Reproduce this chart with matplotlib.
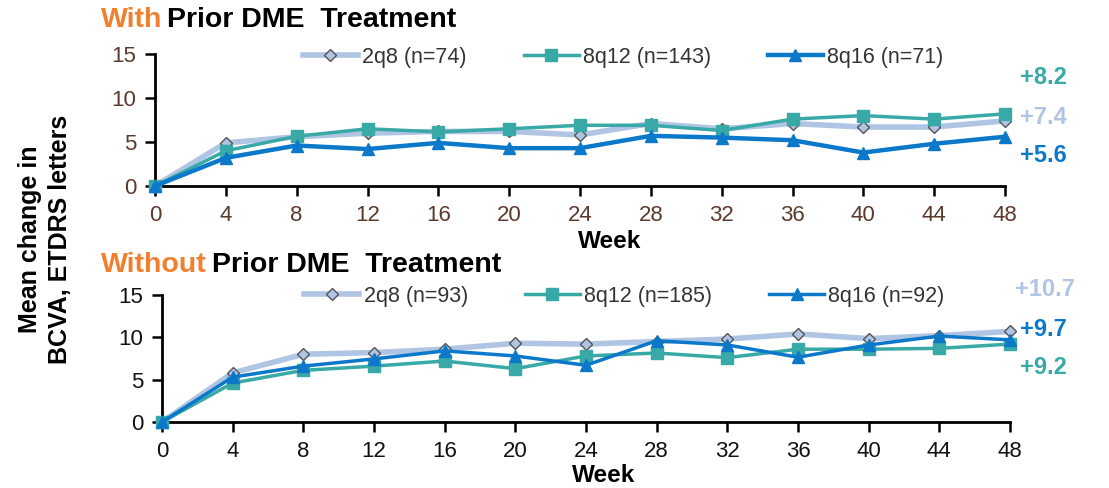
import matplotlib
matplotlib.use("Agg")
import matplotlib.pyplot as plt

plt.rcParams['font.family'] = ['Liberation Sans', 'DejaVu Sans']

weeks = [0, 4, 8, 12, 16, 20, 24, 28, 32, 36, 40, 44, 48]

with_2q8 = [0, 4.9, 5.6, 6.0, 6.2, 6.2, 5.8, 7.1, 6.5, 7.1, 6.7, 6.7, 7.4]
with_8q12 = [0, 4.0, 5.65, 6.5, 6.15, 6.5, 6.9, 6.9, 6.3, 7.6, 8.0, 7.6, 8.2]
with_8q16 = [0, 3.2, 4.6, 4.2, 4.9, 4.3, 4.3, 5.7, 5.5, 5.2, 3.8, 4.8, 5.6]

without_2q8 = [0, 5.8, 8.0, 8.2, 8.6, 9.3, 9.2, 9.5, 9.8, 10.4, 9.85, 10.2, 10.7]
without_8q12 = [0, 4.6, 6.1, 6.6, 7.2, 6.3, 7.8, 8.15, 7.6, 8.6, 8.6, 8.7, 9.2]
without_8q16 = [0, 5.3, 6.6, 7.45, 8.4, 7.8, 6.7, 9.6, 9.1, 7.65, 9.1, 10.15, 9.7]

labels_with = ["2q8 (n=74)", "8q12 (n=143)", "8q16 (n=71)"]
labels_without = ["2q8 (n=93)", "8q12 (n=185)", "8q16 (n=92)"]
end_with = ["+8.2", "+7.4", "+5.6"]
end_without = ["+10.7", "+9.7", "+9.2"]

C_2Q8 = "#B0C4E4"
C_8Q12 = "#38A9A6"
C_8Q16 = "#0B78CA"
ORANGE = "#F0802E"

W, H = 1109, 488
fig = plt.figure(figsize=(W / 100, H / 100), dpi=100)
ax1 = fig.add_axes([155 / W, 1 - 186 / H, 850 / W, 132 / H])
ax2 = fig.add_axes([162 / W, 1 - 422 / H, 848 / W, 127 / H])


def draw(ax, s2q8, s8q12, s8q16, labels, tickcolor, lw16, legx, legy):
    ax.plot(weeks, s2q8, color=C_2Q8, lw=4.0, marker="D", ms=6.5,
            mfc=C_2Q8, mec="#555555", mew=1.0, clip_on=False, zorder=3,
            label=labels[0])
    ax.plot(weeks, s8q12, color=C_8Q12, lw=2.5, marker="s", ms=8.5,
            mfc=C_8Q12, mec=C_8Q12, clip_on=False, zorder=4, label=labels[1])
    ax.plot(weeks, s8q16, color=C_8Q16, lw=lw16, marker="^", ms=8.5,
            mfc=C_8Q16, mec=C_8Q16, clip_on=False, zorder=5, label=labels[2])
    ax.set_xlim(0, 48)
    ax.set_ylim(0, 15)
    ax.set_xticks(weeks)
    ax.set_yticks([0, 5, 10, 15])
    for s in ["top", "right"]:
        ax.spines[s].set_visible(False)
    for s in ["left", "bottom"]:
        ax.spines[s].set_linewidth(2.0)
        ax.spines[s].set_color("black")
    ax.tick_params(axis="both", direction="out", length=7.5, width=1.8,
                   labelsize=16, labelcolor=tickcolor, pad=6)
    leg = ax.legend(loc="center left", bbox_to_anchor=(legx, legy), ncol=3,
                    frameon=False, fontsize=15.5, handlelength=2.55,
                    columnspacing=2.65, handletextpad=0.2,
                    borderaxespad=0, borderpad=0)
    for t in leg.get_texts():
        t.set_color("#333333")


draw(ax1, with_2q8, with_8q12, with_8q16, labels_with, "#5B3A2E", 3.2,
     0.174, 0.977)
draw(ax2, without_2q8, without_8q12, without_8q16, labels_without, "#111111", 2.5,
     0.168, 0.99)

# x-axis titles
fig.text(610 / W, 1 - 241 / H, "Week", fontsize=17.5, fontweight="bold",
         ha="center", va="center")
fig.text(604 / W, 1 - 475 / H, "Week", fontsize=17.5, fontweight="bold",
         ha="center", va="center")

# end labels
kw = dict(fontsize=17, fontweight="bold", va="center")
fig.text(1020 / W, 1 - 78 / H, end_with[0], color=C_8Q12, **kw)
fig.text(1020 / W, 1 - 118 / H, end_with[1], color=C_2Q8, **kw)
fig.text(1020 / W, 1 - 155 / H, end_with[2], color=C_8Q16, **kw)
fig.text(1015 / W, 1 - 290 / H, end_without[0], color=C_2Q8, **kw)
fig.text(1020 / W, 1 - 330 / H, end_without[1], color=C_8Q16, **kw)
fig.text(1020 / W, 1 - 368 / H, end_without[2], color=C_8Q12, **kw)

# titles
fig.canvas.draw()
r = fig.canvas.get_renderer()
for ytitle, word in [(1 - 20 / H, "With"), (1 - 265 / H, "Without")]:
    t = fig.text(101 / W, ytitle, word, color=ORANGE, fontsize=20.5,
                 fontweight="bold", va="center")
    bb = t.get_window_extent(r)
    fig.text((bb.x1 + 5) / W, ytitle, "Prior DME  Treatment", color="black",
             fontsize=20.5, fontweight="bold", va="center")

# y label
fig.text(45 / W, 1 - 239 / H, "Mean change in\nBCVA, ETDRS letters", rotation=90,
         fontsize=18, fontweight="bold", ha="center", va="center",
         linespacing=1.3)

fig.savefig("out.png", dpi=100)
